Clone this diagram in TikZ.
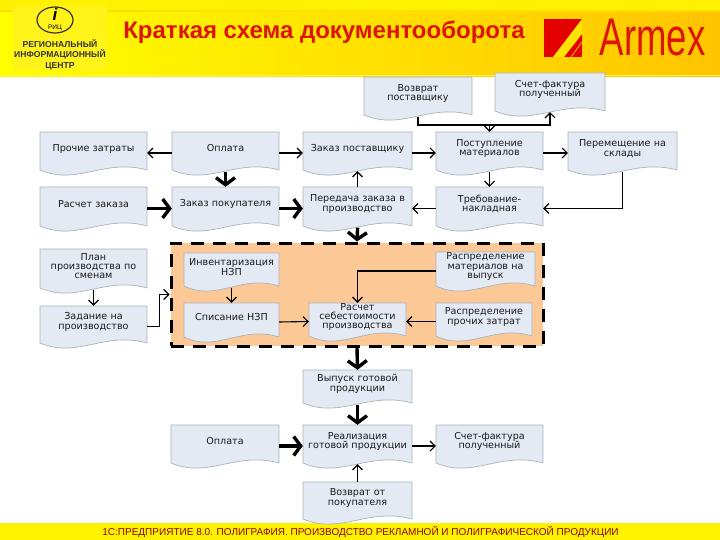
\documentclass[tikz,border=0pt]{standalone}
\usepackage{fontspec}
\usepackage{graphicx}
\setmainfont{Liberation Sans}
\newfontfamily\schemafont{DejaVu Sans}
\usetikzlibrary{arrows.meta}
\definecolor{fonddoc}{RGB}{228,234,244}
\definecolor{borddoc}{RGB}{170,178,188}
\definecolor{fondzone}{RGB}{252,200,150}
\definecolor{orbandeau}{RGB}{255,196,0}
\definecolor{rougetitre}{RGB}{220,20,0}
\begin{document}
\begin{tikzpicture}[x=1pt,y=-1pt]
% définition des paramètres
\tikzstyle docfond=[fill=fonddoc,draw=borddoc,line width=0.7pt]
\tikzstyle doctexte=[inner sep=0pt,align=center,text=black!90,font=\schemafont\fontsize{9.6}{9.4}\selectfont]
\tikzstyle flechefine=[-{Straight Barb[length=5pt,width=10pt]},line width=1.1pt,color=black]
\tikzstyle flechegrasse=[-{Straight Barb[length=7pt,width=19pt]},line width=3.4pt,color=black]
\tikzstyle sortiedoc=[shorten <=-2.5pt]
\tikzstyle entreedoc=[shorten >=-3pt]
% un document : nom, gauche, haut, droite, bas, texte
\newcommand{\docu}[6]{
    \pgfmathsetmacro{\docw}{#4-#2}
    \filldraw[docfond] (#2,#3) -- (#4,#3) -- (#4,#5-4)
        .. controls ({#2+0.6*\docw},#5-16) and ({#2+0.35*\docw},#5+12) .. (#2,#5-4) -- cycle;
    \node[doctexte,minimum height={(#5-#3)*1pt},text width=\docw pt] (#1) at ({(#2+#4)/2},{(#3+#5)/2}) {#6\par\vspace{9pt}};
}
\useasboundingbox (0,0) rectangle (720,540);
% le bandeau
\shade[left color=yellow,right color=orbandeau] (0,0) rectangle (720,77);
\fill[yellow] (0,0) rectangle (720,10);
\draw[yellow!60!orbandeau,line width=1.5pt] (0,11) -- (720,11);
\draw[yellow!70!white,line width=1pt] (0,75.5) -- (720,75.5);
\fill[yellow!90!white] (13,6) rectangle (107,70);
\draw[color=black!80!olive,line width=1.2pt] (55,20) ellipse (18 and 13);
\node (ilogo) at (55,14) {\fontsize{17}{17}\selectfont\bfseries\itshape i};
\node (ritslogo) at (55,28) {\fontsize{6.5}{7}\selectfont РИЦ};
\node[font=\bfseries\fontsize{8.6}{10.5}\selectfont,align=center,text=black!80] (centrelogo) at (60,54.5)
    {РЕГИОНАЛЬНЫЙ\\ИНФОРМАЦИОННЫЙ\\ЦЕНТР};
\node[inner sep=0pt,text=rougetitre,font=\fontsize{24}{24}\selectfont\bfseries] (titre) at (324,32) {Краткая схема документооборота};
% le logo
\fill[red!90!black] (544,19) rectangle (582,57);
\fill[yellow!70!orbandeau] (582,19) -- (553,57) -- (564,57) -- (582,34) -- cycle;
\draw[yellow!70!orbandeau,line width=0.7pt] (582,42) -- (571,57);
\node[inner sep=0pt,text=rougetitre] (armex) at (652.5,38) {\scalebox{0.69}[1]{\fontsize{53}{53}\selectfont Armex}};
% le pied de page
\fill[yellow] (0,523) rectangle (720,540);
\node[inner sep=0pt,text=red!55!black,font=\fontsize{10}{10}\selectfont] (pied) at (360.5,532)
    {1С:ПРЕДПРИЯТИЕ 8.0. ПОЛИГРАФИЯ. ПРОИЗВОДСТВО РЕКЛАМНОЙ И ПОЛИГРАФИЧЕСКОЙ ПРОДУКЦИИ};
% la zone orange
\node[fill=fondzone,draw=black,line width=3pt,dash pattern=on 13pt off 9pt,minimum width=372pt,minimum height=103pt,inner sep=0pt] (zone) at (357,294.5) {};
% les documents du haut
\docu{retourf}{364}{77}{472}{119}{Возврат\\поставщику}
\docu{facture}{495}{73}{605}{115}{Счет-фактура\\полученный}
\docu{prochie}{40}{132}{147}{174}{Прочие затраты}
\docu{oplata}{172}{132}{279}{174}{Оплата}
\docu{zakazf}{303}{132}{412}{174}{Заказ поставщику}
\docu{postup}{436}{132}{543}{174}{Поступление\\материалов}
\docu{peremesch}{568}{132}{677}{174}{Перемещение на\\склады}
\docu{raschet}{40}{187}{147}{230}{Расчет заказа}
\docu{zakazp}{172}{187}{279}{230}{Заказ покупателя}
\docu{peredacha}{303}{187}{412}{230}{Передача заказа в\\производство}
\docu{trebov}{436}{187}{543}{230}{Требование-\\накладная}
\docu{plan}{40}{249}{147}{292}{План\\производства по\\сменам}
\docu{zadanie}{40}{306}{147}{347}{Задание на\\производство}
% les documents de la zone
\docu{invent}{184}{253}{279}{290}{Инвентаризация\\НЗП}
\docu{spisanie}{184}{303}{279}{341}{Списание НЗП}
\docu{sebest}{309}{303}{406}{340}{Расчет\\себестоимости\\производства}
\docu{raspmat}{436}{252}{535}{290}{Распределение\\материалов на\\выпуск}
\docu{raspzat}{436}{303}{532}{340}{Распределение\\прочих затрат}
% les documents du bas
\docu{vypusk}{303}{370}{412}{407}{Выпуск готовой\\продукции}
\docu{oplatab}{171}{425}{279}{467}{Оплата}
\docu{realiz}{303}{425}{412}{467}{Реализация\\готовой продукции}
\docu{factureb}{436}{425}{543}{467}{Счет-фактура\\полученный}
\docu{retourp}{303}{482}{412}{523}{Возврат от\\покупателя}
% les flèches fines
\coordinate (fourche) at (489.5,125);
\draw[line width=1.1pt,sortiedoc] (retourf.south) |- (fourche);
\draw[flechefine] (fourche) -- (postup.north);
\draw[flechefine,entreedoc] (fourche) -| (facture.south);
\draw[flechefine] (oplata.west) -- (prochie.east);
\draw[flechefine] (oplata.east) -- (zakazf.west);
\draw[flechefine] (zakazf.east) -- (postup.west);
\draw[flechefine] (postup.east) -- (peremesch.west);
\draw[flechefine,entreedoc] (peredacha.north) -- (zakazf.south);
\draw[flechefine,sortiedoc] (postup.south) -- (trebov.north);
\draw[flechefine,sortiedoc] (peremesch.south) |- (trebov.east);
\draw[flechefine] (trebov.west) -- (peredacha.east);
\draw[flechefine,sortiedoc] (plan.south) -- (zadanie.north);
\draw[flechefine] (zadanie.east) -- ++(12,0) |- (zone.west);
\draw[flechefine,sortiedoc] (invent.south) -- (spisanie.north);
\draw[flechefine] (spisanie.east) -- (sebest.west);
\draw[flechefine] (raspmat.west) -| (sebest.north);
\draw[flechefine] (raspzat.west) -- (sebest.east);
\draw[flechefine] (realiz.east) -- (factureb.west);
\draw[flechefine,entreedoc] (retourp.north) -- (realiz.south);
% les flèches grasses
\draw[flechegrasse,sortiedoc] (oplata.south) -- (zakazp.north);
\draw[flechegrasse] (raschet.east) -- (zakazp.west);
\draw[flechegrasse] (zakazp.east) -- (peredacha.west);
\draw[flechegrasse,sortiedoc] (peredacha.south) -- (zone.north);
\draw[flechegrasse] (zone.south) -- (vypusk.north);
\draw[flechegrasse,sortiedoc] (vypusk.south) -- (realiz.north);
\draw[flechegrasse] (oplatab.east) -- (realiz.west);
\end{tikzpicture}
\end{document}
